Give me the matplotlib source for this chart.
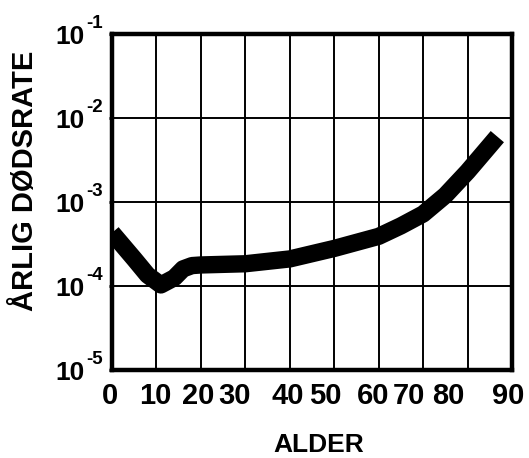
import matplotlib
matplotlib.use("Agg")
import matplotlib.pyplot as plt
import matplotlib.transforms as mtransforms

plt.rcParams['font.family'] = ['Liberation Sans', 'DejaVu Sans']

# Data
ages = [0, 5, 8, 11, 14, 16, 18, 20, 30, 40, 50, 60, 65, 70, 75, 80, 85, 86.7]
rates = [4.3e-4, 2.1e-4, 1.35e-4, 1.03e-4, 1.25e-4, 1.6e-4, 1.75e-4, 1.78e-4,
         1.84e-4, 2.1e-4, 2.8e-4, 3.9e-4, 5.2e-4, 7.2e-4, 1.2e-3, 2.3e-3, 4.7e-3, 6.0e-3]

x_ticks = [0, 10, 20, 30, 40, 50, 60, 70, 80, 90]
x_tick_labels = ["0", "10", "20", "30", "40", "50", "60", "70", "80", "90"]
y_ticks = [1e-5, 1e-4, 1e-3, 1e-2, 1e-1]
y_tick_bases = ["10", "10", "10", "10", "10"]
y_tick_exponents = ["-5", "-4", "-3", "-2", "-1"]

x_label = "ALDER"
y_label = "ÅRLIG DØDSRATE"

# hand-lettered label shifts (pixels) seen in the reference
x_label_shift_px = [-2, -1, -3, -11, -2, -9, -6, -14, -19, -4]

fig = plt.figure(figsize=(5.29, 4.58), dpi=100)
ax = fig.add_axes([112/529, 1 - 370/458, 400/529, 336/458])

ax.set_yscale('log')
ax.set_xlim(0, 90)
ax.set_ylim(1e-5, 1e-1)

ax.set_xticks(x_ticks)
ax.set_xticklabels(x_tick_labels, fontsize=21, fontweight='bold')
ax.set_yticks(y_ticks)
ax.set_yticklabels(y_tick_bases, fontsize=19, fontweight='bold')
ax.minorticks_off()

ax.tick_params(axis='x', length=0, pad=8.5, colors='black')
ax.tick_params(axis='y', length=2.5, width=2, pad=17.5, colors='black')

for lab, dx in zip(ax.get_xticklabels(), x_label_shift_px):
    lab.set_transform(lab.get_transform() +
                      mtransforms.ScaledTranslation(dx / 100, 0, fig.dpi_scale_trans))

for y, e in zip(y_ticks, y_tick_exponents):
    ax.annotate(e, xy=(0, y), xycoords=('axes fraction', 'data'),
                xytext=(-18.7, 4.3), textcoords='offset points',
                ha='left', va='baseline', fontsize=13.5, fontweight='bold',
                annotation_clip=False)

ax.grid(True, which='major', color='black', linewidth=1.4)
ax.set_axisbelow(True)
for s in ax.spines.values():
    s.set_linewidth(3.2)
    s.set_color('black')

ax.plot(ages, rates, color='black', linewidth=12.5,
        solid_capstyle='butt', solid_joinstyle='round', zorder=3, clip_on=True)

ax.set_xlabel(x_label, fontsize=19, fontweight='bold')
ax.xaxis.set_label_coords(0.5175, -0.244)
ax.xaxis.label.set_verticalalignment('baseline')

ax.set_ylabel(y_label, fontsize=21, fontweight='bold', rotation=90,
              ha='center', va='center')
ax.yaxis.set_label_coords(-0.2175, 0.564)

fig.savefig("out.png", dpi=100)
